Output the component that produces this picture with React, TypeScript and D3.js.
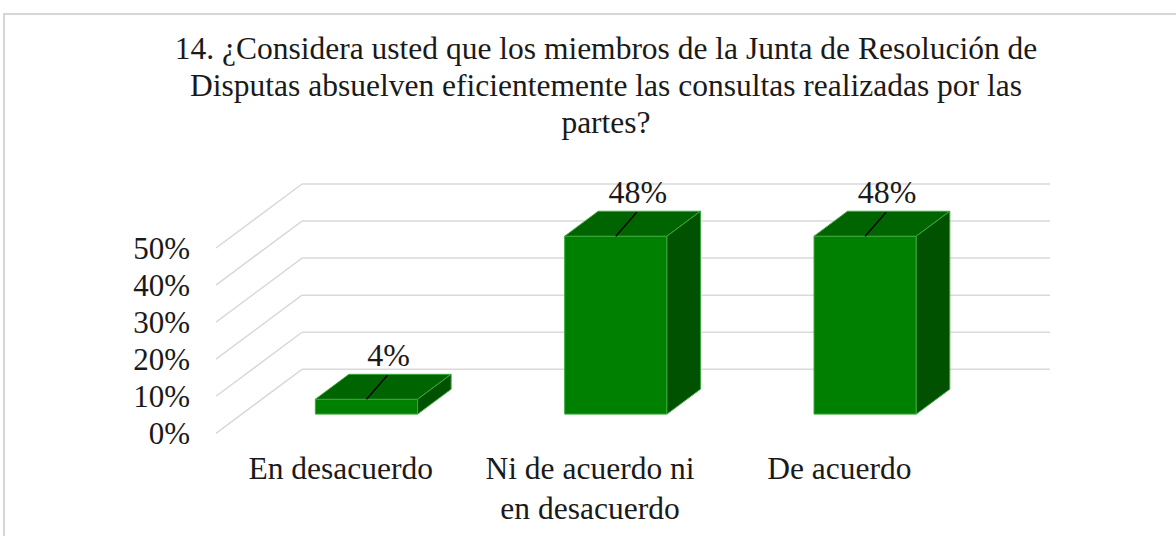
import React from "react";
import * as d3 from "d3";

const title = [
  "14. ¿Considera usted que los miembros de la Junta de Resolución de",
  "Disputas absuelven eficientemente las consultas realizadas por las",
  "partes?",
];
const categories = ["En desacuerdo", "Ni de acuerdo ni en desacuerdo", "De acuerdo"];
const categoryLines = [["En desacuerdo"], ["Ni de acuerdo ni", "en desacuerdo"], ["De acuerdo"]];
const values = [0.04, 0.48, 0.48];
const valueLabels = ["4%", "48%", "48%"];
const ticks = [0, 0.1, 0.2, 0.3, 0.4, 0.5];

const W = 1176;
const H = 536;
const FONT = "'Liberation Serif', 'Times New Roman', serif";

export default function App() {
  // 3D projection: back wall plane and depth vector
  const DX = -86;
  const DY = 64;
  const x = d3.scaleBand<string>().domain(categories).range([302, 1050]).paddingInner(0).paddingOuter(0);
  const y = d3.scaleLinear().domain([0, 0.5]).range([369.3, 184]);
  const barW = x.bandwidth() * 0.41;
  const tFront = 0.7;
  const tBack = 0.31;
  const fmt = d3.format(".0%");

  const P = (px: number, py: number, t: number) => [px + DX * t, py + DY * t];
  const poly = (pts: number[][]) => pts.map((p) => p.join(",")).join(" ");

  return (
    <svg
      width={W}
      height={H}
      viewBox={`0 0 ${W} ${H}`}
      style={{ position: "absolute", left: 0, top: 0, display: "block", background: "#fff" }}
    >
      <rect x={0} y={0} width={W} height={H} fill="#fff" />
      {/* frame */}
      <path d={`M4,${H} L4,14 L${W},14`} fill="none" stroke="#d6d6d6" strokeWidth={2} />

      {/* title */}
      {title.map((t, i) => (
        <text
          key={i}
          x={606}
          y={59 + i * 37}
          textAnchor="middle"
          fontFamily={FONT}
          fontSize={31.5}
          fill="#1a1a1a"
        >
          {t}
        </text>
      ))}

      {/* gridlines: back wall + left floor diagonal */}
      {ticks.map((tk) => {
        const yb = y(tk);
        const [fx, fy] = P(302, yb, 1);
        return (
          <g key={tk}>
            <line x1={302} y1={yb} x2={1050} y2={yb} stroke="#d9d9d9" strokeWidth={1.5} />
            <line x1={302} y1={yb} x2={fx} y2={fy} stroke="#d9d9d9" strokeWidth={1.5} />
            <text
              x={190}
              y={fy}
              dy="0.35em"
              textAnchor="end"
              fontFamily={FONT}
              fontSize={31}
              fill="#1a1a1a"
            >
              {fmt(tk)}
            </text>
          </g>
        );
      })}

      {/* bars */}
      {categories.map((c, i) => {
        const cx = (x(c) as number) + x.bandwidth() / 2;
        const l = cx - barW / 2;
        const r = cx + barW / 2;
        const y0 = y(0);
        const y1 = y(values[i]);
        const fbl = P(l, y0, tFront);
        const fbr = P(r, y0, tFront);
        const ftl = P(l, y1, tFront);
        const ftr = P(r, y1, tFront);
        const btl = P(l, y1, tBack);
        const btr = P(r, y1, tBack);
        const bbr = P(r, y0, tBack);
        const fcx = (ftl[0] + ftr[0]) / 2;
        const fty = ftl[1];
        return (
          <g key={c} stroke="#3aa83a" strokeWidth={1} strokeLinejoin="round">
            <polygon points={poly([fbl, fbr, ftr, ftl])} fill="#008000" />
            <polygon points={poly([ftl, ftr, btr, btl])} fill="#006400" />
            <polygon points={poly([fbr, bbr, btr, ftr])} fill="#005200" />
            <line x1={fcx} y1={fty} x2={fcx + 21} y2={fty - 24} stroke="#000" strokeWidth={1.3} />
            <text
              x={fcx + 22}
              y={fty - 33}
              textAnchor="middle"
              fontFamily={FONT}
              fontSize={32}
              fill="#1a1a1a"
              stroke="none"
            >
              {valueLabels[i]}
            </text>
          </g>
        );
      })}

      {/* category labels */}
      {categories.map((c, i) => {
        const cx = (x(c) as number) + x.bandwidth() / 2 + DX;
        return (
          <text key={c} textAnchor="middle" fontFamily={FONT} fontSize={31.5} fill="#1a1a1a">
            {categoryLines[i].map((ln, j) => (
              <tspan key={j} x={cx} y={479 + j * 40}>
                {ln}
              </tspan>
            ))}
          </text>
        );
      })}
    </svg>
  );
}
